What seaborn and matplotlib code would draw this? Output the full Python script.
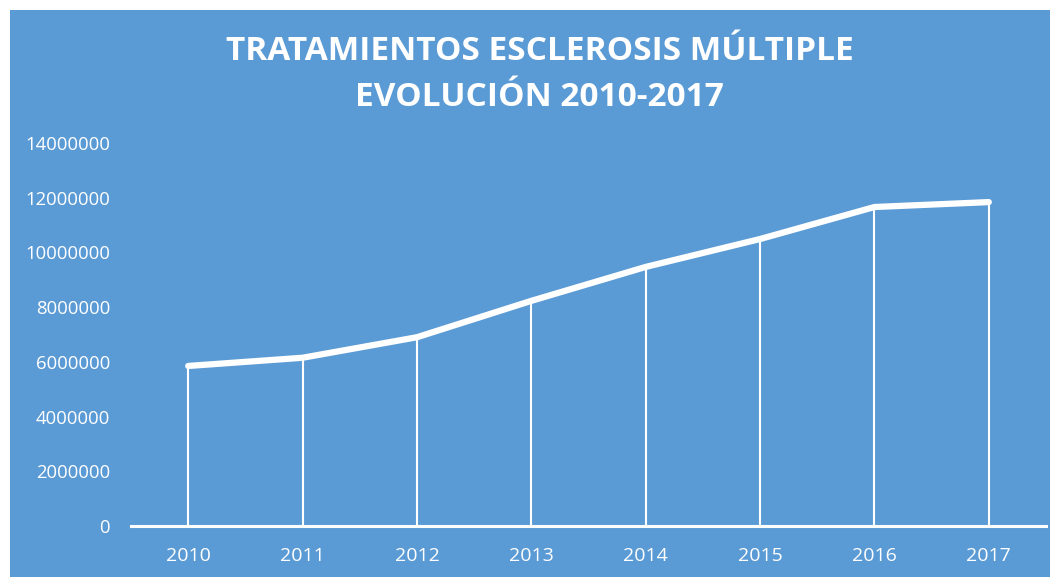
import matplotlib
matplotlib.use('Agg')
import matplotlib.pyplot as plt
import seaborn as sns
import pandas as pd
from matplotlib.patches import Rectangle

years = [2010, 2011, 2012, 2013, 2014, 2015, 2016, 2017]
tratamientos = [5850000, 6150000, 6900000, 8230000, 9470000, 10490000, 11660000, 11840000]
yticks = [0, 2000000, 4000000, 6000000, 8000000, 10000000, 12000000, 14000000]

df = pd.DataFrame({'year': years, 'value': tratamientos})

bg = '#5B9BD5'
sns.set_theme(style='white')
plt.rcParams['font.family'] = ['Open Sans', 'DejaVu Sans']

fig = plt.figure(figsize=(10.5, 5.77), dpi=100)
fig.patch.set_facecolor('white')
# blue chart area with a thin white margin at left/top
fig.patches.append(Rectangle((10 / 1050, 0), 1 - 10 / 1050, 1 - 10 / 577,
                             transform=fig.transFigure, facecolor=bg,
                             edgecolor='none', zorder=-10))

ax = fig.add_axes([131 / 1050, 1 - 526 / 577, (1046 - 131) / 1050, (526 - 143) / 577])
ax.set_facecolor('none')
ax.patch.set_alpha(0)

# drop lines from each point down to the axis
ax.vlines(df['year'], 0, df['value'], color='white', linewidth=1.5, zorder=2)
sns.lineplot(data=df, x='year', y='value', ax=ax, color='white',
             linewidth=4.5, solid_capstyle='round', solid_joinstyle='round', zorder=3)

ax.set_xlim(2009.5, 2017.5)
ax.set_ylim(0, 14000000)
ax.set_xticks(years)
ax.set_xticklabels([str(y) for y in years])
ax.set_yticks(yticks)
ax.set_yticklabels([str(v) for v in yticks])
ax.tick_params(axis='y', colors='white', labelsize=13.3, length=0, pad=15)
ax.tick_params(axis='x', colors='white', labelsize=14, length=0, pad=15)
ax.set_xlabel('')
ax.set_ylabel('')

for side in ['top', 'right', 'left']:
    ax.spines[side].set_visible(False)
ax.spines['bottom'].set_color('white')
ax.spines['bottom'].set_linewidth(2.2)
ax.spines['bottom'].set_zorder(4)
ax.grid(False)

fig.text(0.514, 1 - 52 / 577, 'TRATAMIENTOS ESCLEROSIS MÚLTIPLE',
         ha='center', va='center', color='white', fontsize=24, fontweight='bold')
fig.text(0.514, 1 - 97 / 577, 'EVOLUCIÓN 2010-2017',
         ha='center', va='center', color='white', fontsize=24, fontweight='bold')

fig.savefig('out.png', dpi=100, facecolor=fig.get_facecolor())
